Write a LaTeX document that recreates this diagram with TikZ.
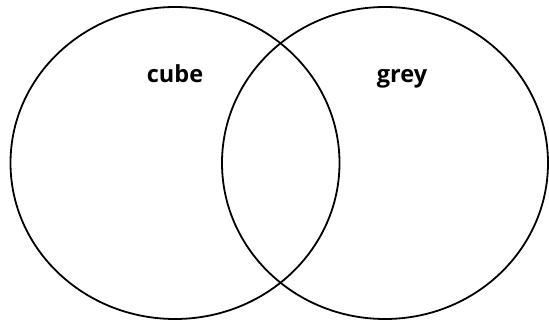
\documentclass[tikz,border=0pt]{standalone}
\usepackage{fontspec}
\setmainfont{Open Sans}
\usetikzlibrary{shapes.geometric}
\tikzset{
  set/.style={draw, ellipse, line width=1.8pt, minimum width=329pt, minimum height=312pt, inner sep=0pt},
  lbl/.style={font=\fontsize{23.5}{28}\selectfont\bfseries, anchor=base, inner sep=0pt},
}
\begin{document}
\begin{tikzpicture}[x=1pt, y=1pt]
    \useasboundingbox (0,0) rectangle (549,321);
    \node[set] (cubeset) at (175,158) {};
    \node[set, minimum width=326pt] (greyset) at (385,158) {};
    \node[lbl] (cubelbl) at (175,238) {cube};
    \node[lbl] (greylbl) at (402,238) {grey};
  \end{tikzpicture}
\end{document}
